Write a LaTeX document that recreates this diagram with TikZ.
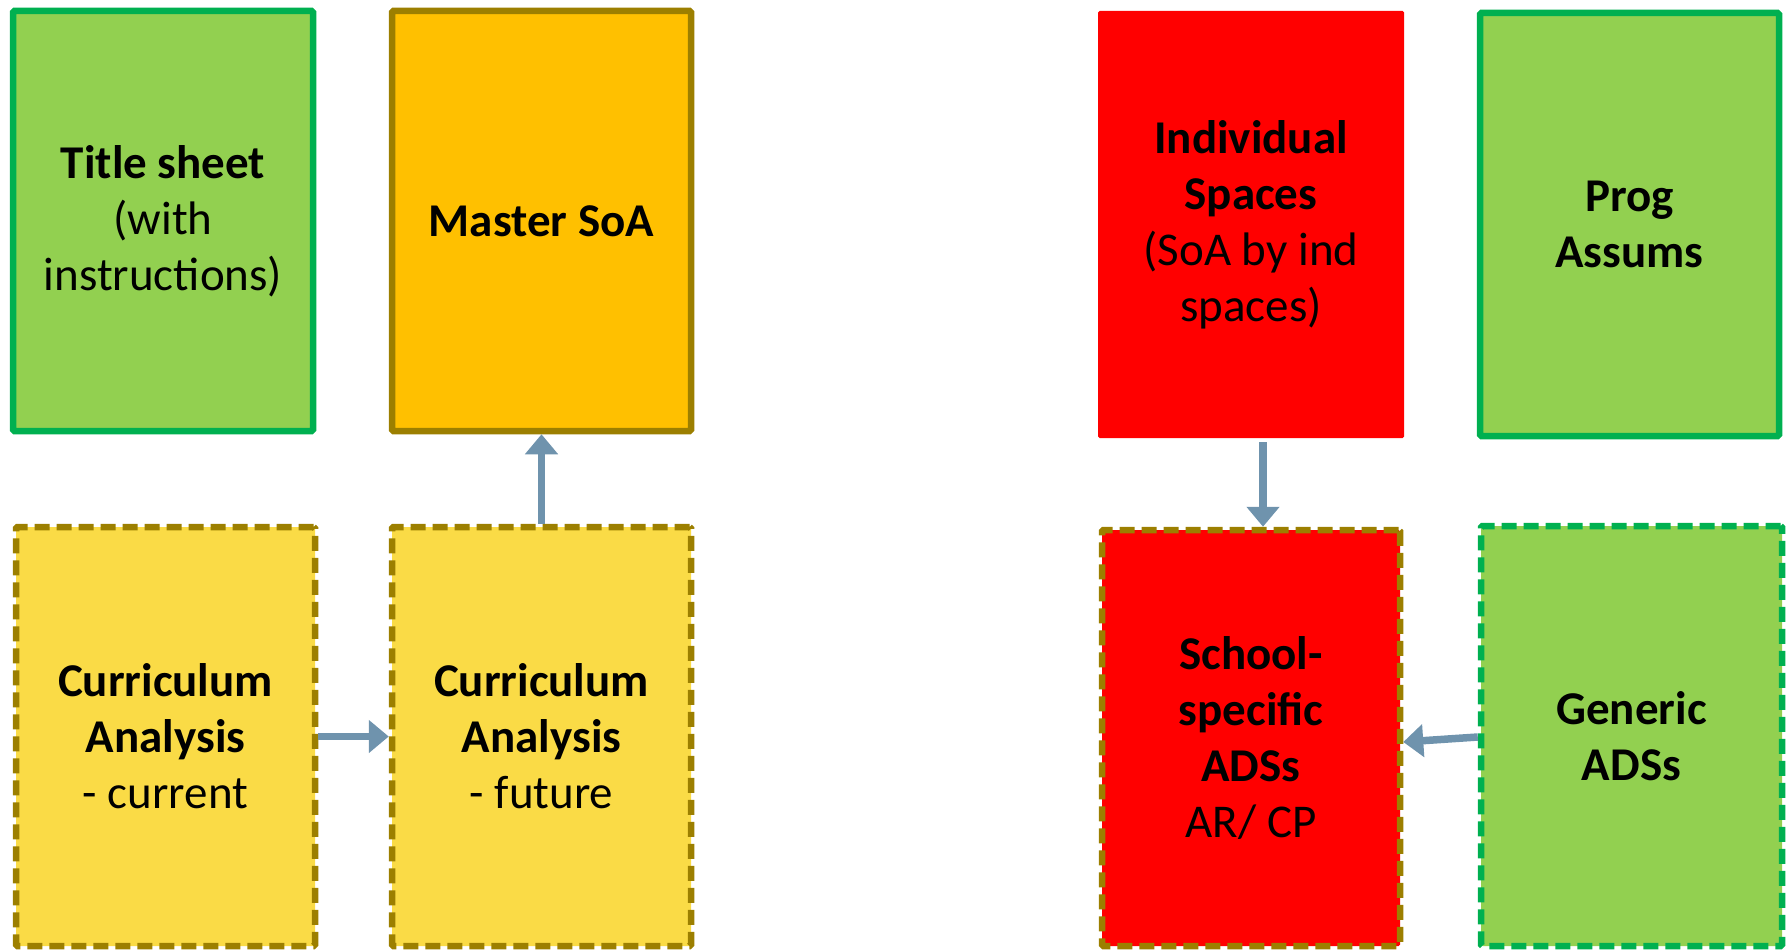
\documentclass[tikz,border=0pt]{standalone}
\usepackage{fontspec}
\setmainfont{Carlito}
\usetikzlibrary{arrows.meta}
\definecolor{lgreen}{HTML}{92D050}
\definecolor{dgreen}{HTML}{00B050}
\definecolor{orangeF}{HTML}{FFC000}
\definecolor{olive}{HTML}{9C7F00}
\definecolor{yellowF}{HTML}{FADB46}
\definecolor{redF}{HTML}{FF0000}
\definecolor{arrowC}{HTML}{6F93AD}
\tikzset{
  box/.style={rectangle, inner sep=0pt, align=center, line width=6.5pt, rounded corners=1.5pt,
    font=\fontsize{47}{56}\selectfont},
  dashbox/.style={box, dash pattern=on 15pt off 7pt},
  conn/.style={draw=arrowC, line width=7.5pt, -{Triangle[width=32pt,length=20pt]}}
}
\begin{document}
\begin{tikzpicture}[x=1pt,y=-1pt]
\useasboundingbox (0,0) rectangle (1787,950);
\node[box, draw=dgreen, fill=lgreen, minimum width=300, minimum height=420] (title) at (163,221)
  {\textbf{Title sheet}\\(with\\instructions)};
\node[box, draw=olive, fill=orangeF, minimum width=299, minimum height=420] (master) at (541.5,221)
  {\textbf{Master SoA}};
\node[dashbox, draw=olive, fill=yellowF, minimum width=299, minimum height=419] (cur) at (165.5,736.5)
  {\textbf{Curriculum}\\\textbf{Analysis}\\- current};
\node[dashbox, draw=olive, fill=yellowF, minimum width=299, minimum height=419] (fut) at (541.5,736.5)
  {\textbf{Curriculum}\\\textbf{Analysis}\\- future};
\node[box, fill=redF, line width=0pt, minimum width=306, minimum height=427] (ind) at (1251,224.5)
  {\textbf{Individual}\\\textbf{Spaces}\\(SoA by ind\\spaces)};
\node[box, draw=dgreen, fill=lgreen, minimum width=299, minimum height=423] (prog) at (1629.5,224.5)
  {\textbf{Prog}\\\textbf{Assums}};
\node[dashbox, draw=olive, fill=redF, minimum width=298, minimum height=416] (sch) at (1251,738)
  {\textbf{School-}\\\textbf{specific}\\\textbf{ADSs}\\AR/ CP};
\node[dashbox, draw=dgreen, fill=lgreen, minimum width=301, minimum height=420] (gen) at (1631.5,736)
  {\textbf{Generic}\\\textbf{ADSs}};
\draw[conn] (fut.north) -- (master.south);
\draw[conn] (cur.east) -- (fut.west);
\draw[conn] ([xshift=12pt,yshift=-4pt]ind.south) -- ([xshift=12pt]sch.north);
\draw[conn] ([yshift=-1pt]gen.west) -- ([yshift=-4pt]sch.east);
\end{tikzpicture}
\end{document}
